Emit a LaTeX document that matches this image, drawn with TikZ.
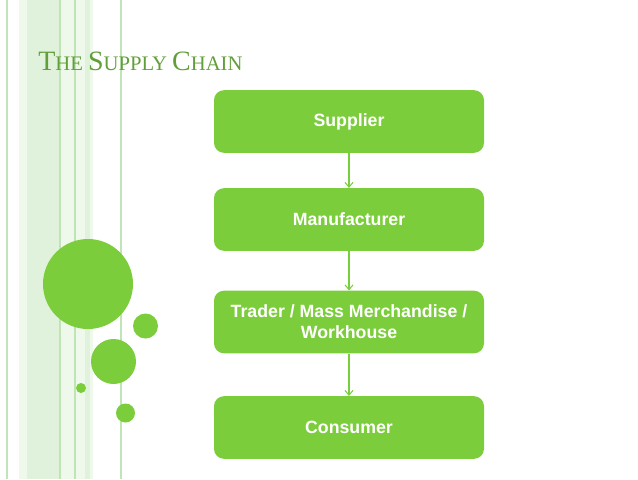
\documentclass[tikz,border=0pt]{standalone}
\usepackage{fontspec}
\setmainfont{Liberation Serif}
\setsansfont{Liberation Sans}
\usetikzlibrary{arrows.meta}
\usetikzlibrary{positioning}

\definecolor{verde}{RGB}{124,205,60}
\definecolor{verdeflecha}{RGB}{118,208,58}
\definecolor{verdetitulo}{RGB}{98,158,58}
\definecolor{franja}{RGB}{224,242,219}
\definecolor{franjaclara}{RGB}{238,248,235}
\definecolor{linea}{RGB}{192,228,182}

\tikzset{
	caja/.style={rectangle, rounded corners=7.5pt, fill=verde, text=white,
		minimum width=202.5pt, minimum height=47pt, align=center,
		font=\sffamily\bfseries\fontsize{13.3}{15.8}\selectfont},
	flecha/.style={verdeflecha, line width=0.8pt, -{Straight Barb[length=3.5pt,width=6pt]}}
}

\begin{document}
\begin{tikzpicture}[x=0.75pt,y=-0.75pt]
	\useasboundingbox (0,0) rectangle (638,479);

% franjas del fondo
	\fill[franjaclara] (19,0) rectangle (93,479);
	\fill[franja] (27,0) rectangle (60,479);
	\fill[franja] (85,0) rectangle (90,479);
	\foreach \x in {6, 59, 73.5, 119.5}
		\fill[linea] (\x,0) rectangle ++(2,479);

% circulos
	\foreach \cx/\cy/\r in {88/284/45, 145.5/326/12.5, 113.5/361.5/22.5, 81/388/5, 125.5/413/9.5}
		\fill[verde] (\cx,\cy) circle (\r*0.75pt);

% titulo
	\node[anchor=base west, inner sep=0pt, text=verdetitulo] (titulo) at (38,70)
		{\fontsize{21}{24}\selectfont T\fontsize{15.5}{18}\selectfont HE
		 \fontsize{21}{24}\selectfont S\fontsize{15.5}{18}\selectfont UPPLY
		 \fontsize{21}{24}\selectfont C\fontsize{15.5}{18}\selectfont HAIN};

% cadena
	\node[caja] (proveedor) at (349,121.5) {Supplier};
	\node[caja] (fabricante) at (349,219.5) {Manufacturer};
	\node[caja] (comerciante) at (349,322) {Trader / Mass Merchandise /\\Workhouse};
	\node[caja] (consumidor) at (349,427.5) {Consumer};

	\draw[flecha] (proveedor) -- (fabricante);
	\draw[flecha] (fabricante) -- (comerciante);
	\draw[flecha] (comerciante) -- (consumidor);
\end{tikzpicture}
\end{document}
